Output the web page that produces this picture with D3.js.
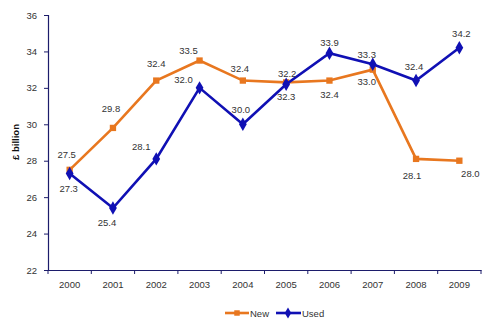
<!DOCTYPE html>
<html><head><meta charset="utf-8">
<script src="https://cdn.jsdelivr.net/npm/d3@7"></script>
<style>body{margin:0;background:#fff;}svg{display:block;font-family:Arial,"Liberation Sans",sans-serif;}</style>
</head><body><svg id="c" width="499" height="328"></svg>
<script>
const years = ["2000","2001","2002","2003","2004","2005","2006","2007","2008","2009"];
const newValues = [27.5, 29.8, 32.4, 33.5, 32.4, 32.3, 32.4, 33.0, 28.1, 28.0];
const usedValues = [27.3, 25.4, 28.1, 32.0, 30.0, 32.2, 33.9, 33.3, 32.4, 34.2];
const yTicks = [22, 24, 26, 28, 30, 32, 34, 36];

// label layout (pixel offsets of each value label's centre from its point)
const newLabelDx = [-3, -2, 0, -11, -3, 0, 0, -6, -4, 11];
const newLabelDy = [-15, -19, -17, -10, -12, 14, 14, 12, 17, 13];
const usedLabelDx = [-1, -6, -15, -16, -2, 1, 0, -6, -2, 2];
const usedLabelDy = [15, 14, -12, -8, -15, -11, -11, -10, -14, -14];

const svg = d3.select("#c");
const axisColor = "#1c1c6b";
const textColor = "#333";
const fs = 9.5;
const x = d3.scaleBand().domain(years).range([48, 481]);
const y = d3.scaleLinear().domain([22, 36]).range([270, 15]);
const cx = d => x(d) + x.bandwidth()/2;

// Y axis
const yAxis = svg.append("g").attr("transform","translate(48,0)")
  .call(d3.axisLeft(y).tickValues(yTicks).tickSize(4).tickPadding(7).tickFormat(d3.format("d")));
yAxis.select(".domain").attr("stroke", axisColor).attr("stroke-width",1.2);
yAxis.selectAll(".tick line").attr("stroke", axisColor);
yAxis.selectAll("text").attr("fill", textColor).attr("font-size", fs).attr("font-family","Arial,'Liberation Sans',sans-serif");

// X axis
const xAxis = svg.append("g").attr("transform","translate(0,270)")
  .call(d3.axisBottom(x).tickSize(0).tickPadding(11));
xAxis.select(".domain").attr("stroke", axisColor).attr("stroke-width",1.2);
xAxis.selectAll("text").attr("fill", textColor).attr("font-size", fs).attr("font-family","Arial,'Liberation Sans',sans-serif");
const bounds = years.map(d => x(d)).concat([x.range()[1]]);
svg.append("g").selectAll("line").data(bounds).join("line")
  .attr("x1", d=>d).attr("x2", d=>d).attr("y1",270).attr("y2",274)
  .attr("stroke", axisColor).attr("stroke-width",1);

// Y title
svg.append("text").attr("transform","translate(19,142) rotate(-90)")
  .attr("text-anchor","middle").attr("font-size",9.5).attr("font-weight","bold").attr("fill","#111")
  .text("£ billion");

const series = [
  {name:"New", values:newValues, dx:newLabelDx, dy:newLabelDy, color:"#E8771F", marker:"square"},
  {name:"Used", values:usedValues, dx:usedLabelDx, dy:usedLabelDy, color:"#1010B4", marker:"diamond"}
];
const line = d3.line().x((d,i)=>cx(years[i])).y(d=>y(d));

series.forEach(s => {
  const g = svg.append("g");
  g.append("path").datum(s.values).attr("d", line).attr("fill","none")
    .attr("stroke", s.color).attr("stroke-width", 2.6).attr("stroke-linejoin","miter");
  const sym = s.marker === "square" ? d3.symbol(d3.symbolSquare, 40) : d3.symbol(d3.symbolDiamond, 52);
  g.selectAll("path.m").data(s.values).join("path").attr("class","m")
    .attr("d", sym).attr("fill", s.color)
    .attr("transform",(d,i)=>`translate(${cx(years[i])},${y(d)})`);
  g.selectAll("text").data(s.values).join("text")
    .attr("x",(d,i)=>cx(years[i]) + s.dx[i])
    .attr("y",(d,i)=> y(d) + s.dy[i] + 3.5)
    .attr("text-anchor","middle").attr("font-size",fs).attr("fill",textColor)
    .text(d=>d3.format(".1f")(d));
});

// Legend
const leg = svg.append("g");
leg.append("line").attr("x1",225).attr("x2",249).attr("y1",313).attr("y2",313).attr("stroke","#E8771F").attr("stroke-width",2.6);
leg.append("path").attr("d", d3.symbol(d3.symbolSquare,30)).attr("fill","#E8771F").attr("transform","translate(237,313)");
leg.append("text").attr("x",250).attr("y",316.5).attr("font-size",fs).attr("fill",textColor).text("New");
leg.append("line").attr("x1",276).attr("x2",301).attr("y1",313).attr("y2",313).attr("stroke","#1010B4").attr("stroke-width",2.6);
leg.append("path").attr("d", d3.symbol(d3.symbolDiamond,36)).attr("fill","#1010B4").attr("transform","translate(288,313)");
leg.append("text").attr("x",302).attr("y",316.5).attr("font-size",fs).attr("fill",textColor).text("Used");
</script></body></html>
